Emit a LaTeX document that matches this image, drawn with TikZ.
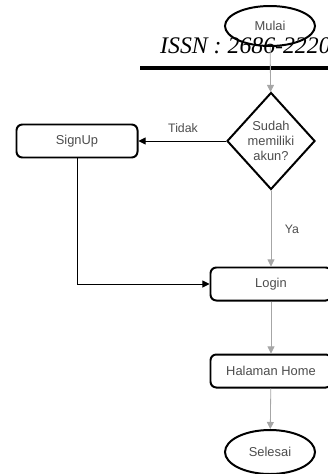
\documentclass[tikz,border=0pt]{standalone}
\usepackage{fontspec}
\setmainfont{Liberation Serif}
\newfontfamily\flowfont{Liberation Sans}
\usetikzlibrary{shapes.geometric, arrows.meta}

\tikzset{
	terminal/.style={ellipse, draw, line width=1.7pt, minimum width=2.7cm, minimum height=1.2cm, inner sep=0pt, font=\flowfont\fontsize{11}{13}\selectfont, text=black!70},
	process/.style={rectangle, rounded corners=5pt, draw, line width=1.7pt, minimum width=3.63cm, minimum height=0.99cm, inner sep=0pt, font=\flowfont\fontsize{11}{13}\selectfont, text=black!70},
	decision/.style={diamond, draw, line width=1.7pt, minimum width=2.64cm, minimum height=2.91cm, inner sep=0pt, align=center, font=\flowfont\fontsize{11}{13}\selectfont, text=black!70},
	flow/.style={-{Triangle[width=6pt,length=6pt]}, black!35, line width=0.7pt},
	flowdark/.style={-{Triangle[width=6pt,length=6pt]}, black, line width=0.8pt},
	lbl/.style={font=\flowfont\fontsize{10.5}{12}\selectfont, text=black!70}
}

\begin{document}
\begin{tikzpicture}[x=0.03cm, y=-0.03cm]
	\useasboundingbox (0,0) rectangle (327,474);
	% page header
	\node[anchor=base west, inner sep=0pt, font=\itshape\fontsize{20.3}{22}\selectfont] (issn) at (160,53) {ISSN : 2686-2220};
	\draw[line width=3pt] (140,68) -- (340,68);
	% steps of the flow
	\node[terminal] (mulai) at (270,26) {Mulai};
	\node[decision] (akun) at (271,141) {Sudah\\memiliki\\akun?};
	\node[process] (signup) at (77,141) {SignUp};
	\node[process] (login) at (271,284) {Login};
	\node[process] (home) at (271,371) {Halaman Home};
	\node[terminal, minimum height=1.32cm] (selesai) at (270,452) {Selesai};
	% arrows down the middle
	\foreach \a/\b in {mulai/akun, akun/login, login/home, home/selesai}
	{
		\draw[flow] (\a) -- (\b);
	}
	% branch to sign up
	\draw[flowdark] (akun.west) -- (signup.east);
	\draw[flowdark] (signup.south) |- (login.west);
	% other labels
	\node[lbl] (tidak) at (183,128) {Tidak};
	\node[lbl] (ya) at (292,229) {Ya};
\end{tikzpicture}
\end{document}
